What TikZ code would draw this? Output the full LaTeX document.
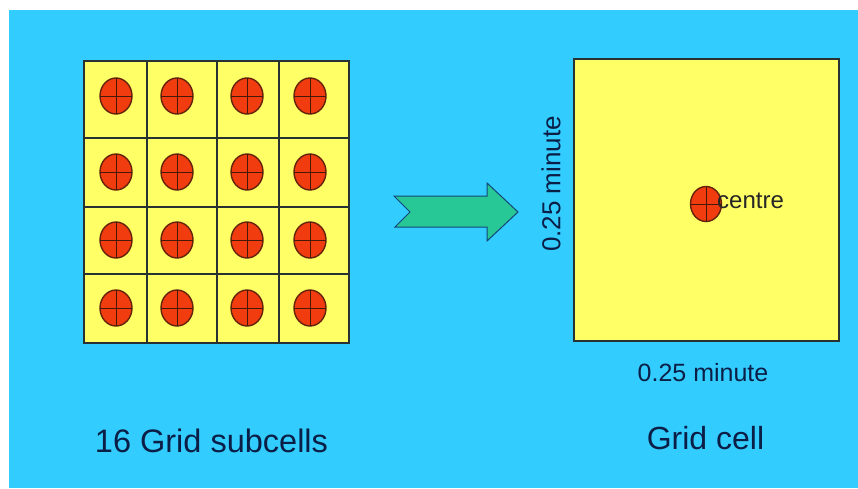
\documentclass[tikz,border=0pt]{standalone}
\usepackage{fontspec}
\setmainfont{Liberation Sans}
\definecolor{bgblue}{RGB}{51,204,255}
\definecolor{cellyellow}{RGB}{255,255,102}
\definecolor{dotred}{RGB}{240,60,15}
\definecolor{dotedge}{RGB}{100,35,10}
\definecolor{gridline}{RGB}{40,50,50}
\definecolor{arrowgreen}{RGB}{40,200,150}
\definecolor{arrowedge}{RGB}{20,70,120}
\definecolor{labelnavy}{RGB}{10,30,70}
\begin{document}
\begin{tikzpicture}[x=1pt,y=-1pt,
  gridpen/.style={draw=gridline,line width=1.3pt},
  dot/.style={fill=dotred,draw=dotedge,line width=1.4pt},
  crossline/.style={draw=dotedge!70!black,line width=1pt},
  label/.style={text=labelnavy,inner sep=0pt,font=\fontsize{#1}{#1}\selectfont},
]
\useasboundingbox (0,0) rectangle (858,488);
\fill[white] (0,0) rectangle (858,488);
\fill[bgblue] (9,10) rectangle (858,488);
% left grid
\filldraw[fill=cellyellow,gridpen] (84,61) rectangle (349,343);
\foreach \x in {147,217,279} \draw[gridpen] (\x,61) -- (\x,343);
\foreach \y in {138,207,274} \draw[gridpen] (84,\y) -- (349,\y);
\foreach \cx in {116,177,247,310}{
  \foreach \cy in {96,172,240,308}{
    \draw[dot] (\cx,\cy) ellipse [x radius=16,y radius=18];
    \draw[crossline] (\cx-16,\cy) -- (\cx+16,\cy);
    \draw[crossline] (\cx,\cy-18) -- (\cx,\cy+18);
  }
}
% arrow
\filldraw[fill=arrowgreen,draw=arrowedge,line width=1pt,line join=miter]
  (394,196) -- (487,196) -- (487,183) -- (518,212) -- (487,241) -- (487,227)
  -- (395,227) -- (410,212) -- cycle;
% right cell
\filldraw[fill=cellyellow,gridpen] (574,59) rectangle (839,341);
\draw[dot] (706,204) ellipse [x radius=15.5,y radius=17.5];
\draw[crossline] (690.5,204) -- (721.5,204);
\draw[crossline] (706,186.5) -- (706,221.5);
\node[label=24,text=black!85,anchor=west] (centre) at (717,200.5) {centre};
% labels
\node[label=26,rotate=90] (side) at (551,184) {0.25 minute};
\node[label=25,anchor=base] (bottom) at (703,381) {0.25 minute};
\node[label=32,anchor=base] (gridcell) at (705.5,449) {Grid cell};
\node[label=32.5,anchor=base] (subcells) at (211.5,452) {16 Grid subcells};
\end{tikzpicture}
\end{document}
